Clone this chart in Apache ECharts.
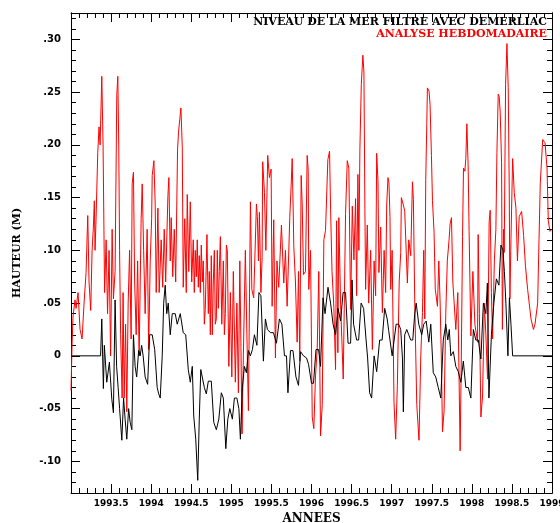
<!DOCTYPE html>
<html>
<head>
<meta charset="utf-8">
<script src="https://cdn.jsdelivr.net/npm/echarts@6/dist/echarts.min.js"></script>
<style>
  html, body { margin: 0; padding: 0; background: #fff; }
  #chart { width: 560px; height: 523px; }
</style>
</head>
<body>
<div id="chart"></div>
<script>
// major ticks / labels on the height axis
const yMajorTicks = [-0.10, -0.05, 0, 0.05, 0.10, 0.15, 0.20, 0.25, 0.30];
const yTickLabels = ["-.10", "-.05", "0", ".05", ".10", ".15", ".20", ".25", ".30"];

// weekly analysis (red): [year, height m]
const redObs = [
  [1993.000,-0.033],[1993.013,0.010],[1993.025,0.037],[1993.050,0.053],[1993.063,0.045],
  [1993.088,0.060],[1993.113,0.025],[1993.138,0.016],[1993.163,0.050],[1993.188,0.079],
  [1993.209,0.133],[1993.225,0.070],[1993.246,0.043],[1993.263,0.100],[1993.279,0.122],
  [1993.291,0.147],[1993.300,0.100],[1993.313,0.131],[1993.334,0.193],[1993.350,0.217],
  [1993.363,0.200],[1993.384,0.265],[1993.400,0.200],[1993.419,0.060],[1993.438,0.110],
  [1993.456,0.040],[1993.475,0.100],[1993.494,0.000],[1993.513,0.120],[1993.529,0.054],
  [1993.550,0.080],[1993.571,0.247],[1993.584,0.265],[1993.596,0.198],[1993.606,0.100],
  [1993.619,0.020],[1993.638,-0.040],[1993.650,0.060],[1993.663,-0.040],[1993.681,0.030],
  [1993.696,-0.053],[1993.713,0.050],[1993.731,0.100],[1993.750,0.016],[1993.763,0.163],
  [1993.779,0.174],[1993.794,0.070],[1993.813,0.020],[1993.831,0.090],[1993.850,0.000],
  [1993.875,0.130],[1993.888,0.163],[1993.906,0.100],[1993.925,0.040],[1993.950,0.120],
  [1993.969,0.006],[1993.988,0.090],[1994.006,0.130],[1994.013,0.171],[1994.034,0.185],
  [1994.050,0.144],[1994.063,0.060],[1994.084,0.140],[1994.100,0.060],[1994.125,0.110],
  [1994.144,0.065],[1994.163,0.120],[1994.181,0.070],[1994.209,0.152],[1994.221,0.169],
  [1994.238,0.090],[1994.250,0.131],[1994.269,0.075],[1994.288,0.120],[1994.306,0.070],
  [1994.329,0.195],[1994.341,0.212],[1994.371,0.235],[1994.388,0.198],[1994.400,0.065],
  [1994.419,0.130],[1994.438,0.060],[1994.450,0.153],[1994.469,0.080],[1994.488,0.146],
  [1994.506,0.070],[1994.525,0.110],[1994.538,0.060],[1994.550,0.100],[1994.563,0.075],
  [1994.575,0.110],[1994.588,0.065],[1994.600,0.095],[1994.613,0.060],[1994.625,0.105],
  [1994.638,0.070],[1994.650,0.090],[1994.663,0.030],[1994.675,0.044],[1994.696,0.115],
  [1994.713,0.040],[1994.725,0.080],[1994.738,0.020],[1994.750,0.095],[1994.763,0.020],
  [1994.775,0.070],[1994.788,0.100],[1994.800,0.030],[1994.813,0.035],[1994.825,0.100],
  [1994.838,0.045],[1994.850,0.080],[1994.863,0.113],[1994.881,0.030],[1994.900,0.090],
  [1994.913,0.020],[1994.925,0.040],[1994.938,0.105],[1994.950,0.100],[1994.969,-0.010],
  [1994.988,0.060],[1995.006,-0.020],[1995.025,0.080],[1995.050,-0.025],[1995.069,0.050],
  [1995.088,-0.035],[1995.106,0.090],[1995.134,-0.074],[1995.150,0.000],[1995.175,0.100],
  [1995.194,0.020],[1995.213,-0.052],[1995.238,0.146],[1995.256,0.063],[1995.279,0.055],
  [1995.313,0.144],[1995.325,0.132],[1995.338,0.090],[1995.350,0.136],[1995.369,0.060],
  [1995.384,0.093],[1995.391,0.184],[1995.413,0.155],[1995.431,0.100],[1995.454,0.190],
  [1995.475,0.169],[1995.496,0.177],[1995.509,0.047],[1995.529,0.129],[1995.550,-0.002],
  [1995.569,0.090],[1995.591,0.065],[1995.625,0.124],[1995.646,0.125],[1995.654,0.069],
  [1995.675,0.100],[1995.696,0.047],[1995.729,0.131],[1995.746,0.161],[1995.759,0.187],
  [1995.771,0.140],[1995.779,0.104],[1995.800,0.070],[1995.821,0.013],[1995.838,0.080],
  [1995.854,-0.005],[1995.871,0.171],[1995.884,0.144],[1995.900,0.077],[1995.925,0.080],
  [1995.946,0.190],[1995.959,0.176],[1995.966,0.063],[1995.988,0.100],[1996.009,-0.058],
  [1996.029,-0.069],[1996.050,-0.019],[1996.071,0.006],[1996.091,0.080],[1996.113,-0.076],
  [1996.134,-0.046],[1996.154,0.110],[1996.175,0.119],[1996.204,0.186],[1996.225,0.194],
  [1996.238,0.139],[1996.256,0.080],[1996.279,0.046],[1996.300,-0.013],[1996.313,0.128],
  [1996.329,0.003],[1996.341,0.131],[1996.363,0.049],[1996.396,-0.022],[1996.425,0.135],
  [1996.446,0.185],[1996.466,0.178],[1996.488,0.044],[1996.509,0.142],[1996.529,0.091],
  [1996.550,0.149],[1996.563,0.057],[1996.579,0.172],[1996.591,0.100],[1996.604,0.197],
  [1996.621,0.257],[1996.641,0.285],[1996.654,0.269],[1996.666,0.139],[1996.675,0.063],
  [1996.696,0.124],[1996.713,0.050],[1996.738,0.100],[1996.759,0.006],[1996.781,0.090],
  [1996.800,0.057],[1996.813,0.192],[1996.829,0.166],[1996.841,0.079],[1996.863,0.122],
  [1996.884,0.041],[1996.906,0.100],[1996.925,0.060],[1996.938,0.143],[1996.954,0.169],
  [1996.966,0.164],[1996.979,0.132],[1996.988,0.063],[1997.006,0.100],[1997.029,-0.044],
  [1997.050,-0.079],[1997.071,-0.028],[1997.094,0.070],[1997.113,0.098],[1997.121,0.150],
  [1997.146,0.143],[1997.163,0.137],[1997.196,0.069],[1997.213,0.110],[1997.238,0.095],
  [1997.259,0.165],[1997.271,0.148],[1997.288,0.050],[1997.313,-0.046],[1997.341,-0.080],
  [1997.363,0.000],[1997.384,0.041],[1997.400,0.100],[1997.413,0.035],[1997.425,0.167],
  [1997.438,0.219],[1997.446,0.254],[1997.466,0.251],[1997.479,0.238],[1997.496,0.190],
  [1997.509,0.147],[1997.529,0.117],[1997.544,0.063],[1997.571,0.047],[1997.588,0.090],
  [1997.604,0.052],[1997.619,0.000],[1997.634,-0.072],[1997.654,-0.052],[1997.675,0.040],
  [1997.694,0.090],[1997.716,0.110],[1997.729,0.125],[1997.746,0.131],[1997.763,0.070],
  [1997.800,0.025],[1997.825,0.060],[1997.854,-0.090],[1997.869,0.000],[1997.884,0.113],
  [1997.896,0.178],[1997.913,0.175],[1997.925,0.187],[1997.938,0.220],[1997.954,0.180],
  [1997.966,0.118],[1997.988,0.019],[1998.013,0.080],[1998.038,0.030],[1998.071,0.013],
  [1998.079,0.115],[1998.094,0.040],[1998.113,-0.058],[1998.134,-0.038],[1998.156,0.050],
  [1998.175,0.020],[1998.196,-0.022],[1998.216,0.127],[1998.229,0.138],[1998.244,0.060],
  [1998.259,0.016],[1998.281,0.090],[1998.300,0.120],[1998.313,0.193],[1998.329,0.248],
  [1998.341,0.246],[1998.354,0.231],[1998.371,0.183],[1998.381,0.025],[1998.396,0.120],
  [1998.404,0.098],[1998.413,0.183],[1998.421,0.257],[1998.438,0.296],[1998.454,0.254],
  [1998.466,0.163],[1998.475,0.054],[1998.488,0.110],[1998.509,0.187],[1998.529,0.155],
  [1998.550,0.140],[1998.569,0.090],[1998.591,0.132],[1998.621,0.137],[1998.646,0.114],
  [1998.669,0.085],[1998.696,0.063],[1998.738,0.035],[1998.769,0.025],[1998.788,0.030],
  [1998.821,0.050],[1998.838,0.110],[1998.854,0.164],[1998.884,0.205],[1998.913,0.202],
  [1998.938,0.178],[1998.954,0.128],[1998.975,0.118],[1999.000,0.120]
];

// sea level filtered with Demerliac (black): [year, height m]
const blackObs = [
  [1993.000,0.000],[1993.369,0.000],[1993.384,0.035],[1993.404,-0.031],[1993.416,0.010],
  [1993.446,-0.025],[1993.479,-0.006],[1993.509,-0.041],[1993.529,-0.054],[1993.550,0.053],
  [1993.569,-0.010],[1993.588,-0.030],[1993.606,-0.050],[1993.634,-0.080],[1993.656,-0.040],
  [1993.675,-0.060],[1993.696,-0.079],[1993.719,-0.050],[1993.738,-0.063],[1993.759,-0.070],
  [1993.779,0.020],[1993.800,-0.010],[1993.819,-0.020],[1993.844,0.005],[1993.863,0.000],
  [1993.881,0.010],[1993.900,0.000],[1993.925,-0.020],[1993.956,-0.027],[1993.981,0.020],
  [1994.013,0.020],[1994.044,0.006],[1994.075,-0.030],[1994.094,-0.036],[1994.113,-0.040],
  [1994.138,0.000],[1994.156,0.050],[1994.175,0.067],[1994.194,0.040],[1994.213,0.050],
  [1994.238,0.020],[1994.263,0.040],[1994.300,0.040],[1994.325,0.030],[1994.363,0.040],
  [1994.400,0.022],[1994.431,0.020],[1994.463,-0.013],[1994.488,-0.025],[1994.513,-0.010],
  [1994.531,-0.057],[1994.556,-0.079],[1994.581,-0.118],[1994.600,-0.060],[1994.619,-0.013],
  [1994.638,-0.013],[1994.663,-0.030],[1994.688,-0.036],[1994.713,-0.024],[1994.750,-0.024],
  [1994.781,-0.063],[1994.813,-0.070],[1994.844,-0.060],[1994.875,-0.035],[1994.900,-0.040],
  [1994.931,-0.088],[1994.956,-0.060],[1994.981,-0.050],[1995.013,-0.060],[1995.038,-0.040],
  [1995.069,-0.040],[1995.094,-0.050],[1995.113,-0.079],[1995.138,-0.030],[1995.163,-0.010],
  [1995.188,-0.016],[1995.213,0.005],[1995.238,0.000],[1995.263,0.006],[1995.288,0.020],
  [1995.319,0.010],[1995.344,0.060],[1995.369,0.057],[1995.400,-0.005],[1995.425,0.035],
  [1995.450,0.025],[1995.488,0.022],[1995.525,0.022],[1995.563,0.012],[1995.600,0.035],
  [1995.631,0.030],[1995.663,0.000],[1995.688,0.000],[1995.706,-0.035],[1995.738,0.005],
  [1995.769,0.005],[1995.806,-0.020],[1995.838,-0.028],[1995.863,0.004],[1995.900,0.000],
  [1995.938,-0.002],[1995.963,-0.008],[1996.000,-0.026],[1996.025,-0.026],[1996.056,0.006],
  [1996.088,0.006],[1996.113,-0.010],[1996.144,0.055],[1996.169,0.040],[1996.206,0.065],
  [1996.238,0.050],[1996.269,0.030],[1996.300,0.020],[1996.331,0.045],[1996.363,0.033],
  [1996.394,0.060],[1996.425,0.060],[1996.456,0.012],[1996.488,0.012],[1996.506,0.072],
  [1996.525,0.030],[1996.563,0.015],[1996.588,0.015],[1996.619,0.050],[1996.650,0.045],
  [1996.681,0.015],[1996.700,-0.002],[1996.725,-0.035],[1996.750,-0.040],[1996.781,0.000],
  [1996.813,-0.015],[1996.850,0.015],[1996.881,0.015],[1996.913,0.045],[1996.944,0.035],
  [1996.963,0.024],[1997.006,0.000],[1997.056,0.030],[1997.088,0.030],[1997.113,0.025],
  [1997.134,-0.002],[1997.146,-0.053],[1997.163,0.020],[1997.188,0.025],[1997.213,0.020],
  [1997.238,0.015],[1997.263,0.015],[1997.288,0.040],[1997.306,0.050],[1997.338,0.030],
  [1997.375,0.020],[1997.400,0.030],[1997.431,0.033],[1997.463,0.013],[1997.488,0.030],
  [1997.519,-0.016],[1997.550,-0.020],[1997.581,-0.030],[1997.613,-0.040],[1997.644,0.015],
  [1997.675,0.030],[1997.700,0.015],[1997.719,0.025],[1997.738,0.000],[1997.769,0.004],
  [1997.800,-0.010],[1997.831,-0.015],[1997.863,-0.025],[1997.894,-0.005],[1997.925,-0.030],
  [1997.956,-0.030],[1997.988,-0.040],[1998.019,0.025],[1998.050,0.015],[1998.081,0.015],
  [1998.113,-0.003],[1998.144,0.050],[1998.175,0.040],[1998.194,0.069],[1998.213,-0.040],
  [1998.244,0.020],[1998.275,0.050],[1998.306,0.073],[1998.338,0.067],[1998.363,0.105],
  [1998.388,0.100],[1998.406,0.080],[1998.425,0.050],[1998.450,0.000],[1998.469,0.055],
  [1998.488,0.030],[1998.509,0.000],[1999.000,0.000]
];

const chart = echarts.init(document.getElementById("chart"));

const black = "#000";
const tickFont = { color: black, fontFamily: "DejaVu Sans", fontWeight: "bold", fontSize: 9 };
const nameFont = { color: black, fontFamily: "DejaVu Serif", fontWeight: "bold", fontSize: 11 };

function heightLabel(v) {
  const i = yMajorTicks.findIndex((t) => Math.abs(t - v) < 1e-9);
  return i >= 0 ? yTickLabels[i] : "";
}

const xBase = {
  type: "value",
  min: 1993,
  max: 1999,
  interval: 0.5,
  axisLine: { onZero: false, lineStyle: { color: black, width: 1 } },
  axisTick: { inside: true, length: 9, lineStyle: { color: black } },
  minorTick: { show: true, splitNumber: 5, length: 5, lineStyle: { color: black } },
  splitLine: { show: false },
  minorSplitLine: { show: false },
};

const yBase = {
  type: "value",
  min: -0.13,
  max: 0.325,
  axisLine: { onZero: false, lineStyle: { color: black, width: 1 } },
  splitLine: { show: false },
};

const option = {
  animation: false,
  backgroundColor: "#fff",
  title: [
    {
      text: "NIVEAU DE LA MER FILTRE AVEC DEMERLIAC",
      right: 13,
      top: 17,
      padding: 0,
      textStyle: nameFont,
    },
    {
      text: "ANALYSE HEBDOMADAIRE",
      right: 13,
      top: 29,
      padding: 0,
      textStyle: { ...nameFont, color: "#ff0000" },
    },
  ],
  grid: { left: 71, right: 8, top: 13, bottom: 30, outerBoundsMode: "none" },
  xAxis: [
    {
      ...xBase,
      position: "bottom",
      name: "ANNEES",
      nameLocation: "middle",
      nameGap: 15,
      nameTextStyle: { ...nameFont, fontSize: 12 },
      axisLabel: {
        ...tickFont,
        margin: 6,
        formatter: (v) => (v === 1993 ? "" : String(v)),
      },
    },
    { ...xBase, position: "top", axisLabel: { show: false } },
  ],
  yAxis: [
    {
      ...yBase,
      position: "left",
      name: "HAUTEUR (M)",
      nameLocation: "middle",
      nameGap: 48,
      nameTextStyle: nameFont,
      axisTick: { inside: true, length: 9, customValues: yMajorTicks, lineStyle: { color: black } },
      axisLabel: { ...tickFont, fontSize: 10, margin: 10, customValues: yMajorTicks, formatter: heightLabel },
    },
    {
      ...yBase,
      position: "left",
      interval: 0.01,
      axisTick: { inside: true, length: 5, lineStyle: { color: black } },
      axisLabel: { show: false },
    },
    {
      ...yBase,
      position: "right",
      axisTick: { inside: true, length: 9, customValues: yMajorTicks, lineStyle: { color: black } },
      axisLabel: { show: false },
    },
    {
      ...yBase,
      position: "right",
      interval: 0.01,
      axisTick: { inside: true, length: 5, lineStyle: { color: black } },
      axisLabel: { show: false },
    },
  ],
  series: [
    {
      name: "ANALYSE HEBDOMADAIRE",
      type: "line",
      data: redObs,
      symbol: "none",
      lineStyle: { color: "#ff0000", width: 1 },
      itemStyle: { color: "#ff0000" },
      silent: true,
    },
    {
      name: "NIVEAU DE LA MER FILTRE AVEC DEMERLIAC",
      type: "line",
      data: blackObs,
      symbol: "none",
      lineStyle: { color: black, width: 1 },
      itemStyle: { color: black },
      silent: true,
      z: 3,
    },
  ],
};

chart.setOption(option);
</script>
</body>
</html>
